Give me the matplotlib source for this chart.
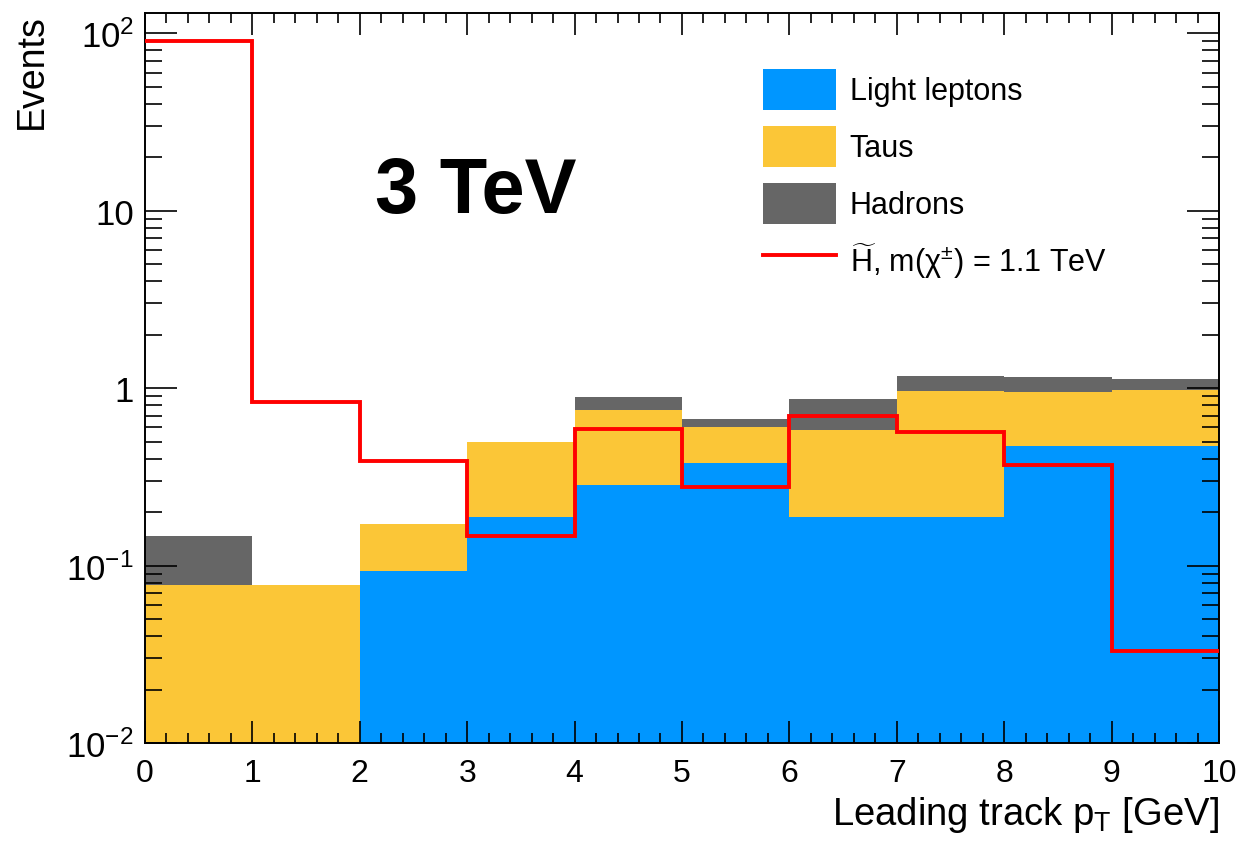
import numpy as np
import matplotlib
matplotlib.use("Agg")
import matplotlib.pyplot as plt
from matplotlib.patches import Patch
from matplotlib.lines import Line2D
from matplotlib.ticker import FixedLocator, LogLocator, FuncFormatter, MultipleLocator, NullFormatter

plt.rcParams["font.family"] = ["Liberation Sans", "DejaVu Sans"]
plt.rcParams["mathtext.fontset"] = "custom"
plt.rcParams["mathtext.rm"] = "Liberation Sans"
plt.rcParams["mathtext.it"] = "Liberation Sans:italic"
plt.rcParams["mathtext.bf"] = "Liberation Sans:bold"

# ---------- DATA ----------
bin_edges = [0, 1, 2, 3, 4, 5, 6, 7, 8, 9, 10]
light_leptons = [0.0, 0.0, 0.0935, 0.188, 0.283, 0.378, 0.188, 0.188, 0.473, 0.473]
taus = [0.078, 0.078, 0.0775, 0.312, 0.472, 0.227, 0.394, 0.774, 0.473, 0.505]
hadrons = [0.068, 0.0, 0.0, 0.0, 0.138, 0.062, 0.285, 0.202, 0.202, 0.146]
signal = [90.5, 0.84, 0.386, 0.147, 0.587, 0.277, 0.698, 0.565, 0.367, 0.0328]

labels = ["Light leptons", "Taus", "Hadrons"]
colors = ["#0096ff", "#fbc637", "#666666"]
signal_label = r"$\widetilde{\mathrm{H}}$, m(χ$^{\pm}$) = 1.1 TeV"

# ---------- PLOT ----------
fig = plt.figure(figsize=(12.55, 8.45), dpi=100)
ax = fig.add_axes([0.1155, 0.1195, 0.8558, 0.8639])

edges = np.array(bin_edges, dtype=float)
centers = 0.5 * (edges[:-1] + edges[1:])

ax.hist([centers] * 3, bins=edges, weights=[light_leptons, taus, hadrons],
        stacked=True, histtype="stepfilled", color=colors, linewidth=0)
ax.stairs(signal, edges, baseline=None, color="#ff0000", linewidth=2.8, zorder=3)

ax.set_yscale("log")
ax.set_xlim(0, 10)
ax.set_ylim(0.01, 130)

# axis ticks, ROOT style
ax.xaxis.set_major_locator(MultipleLocator(1))
ax.xaxis.set_minor_locator(MultipleLocator(0.2))
ax.yaxis.set_major_locator(FixedLocator([1e-2, 1e-1, 1, 10, 100]))
ax.yaxis.set_minor_locator(LogLocator(base=10, subs=np.arange(2, 10)))
ax.yaxis.set_minor_formatter(NullFormatter())

ylabels = {1e-2: r"$10^{-2}$", 1e-1: r"$10^{-1}$", 1: "1", 10: "10", 100: r"$10^{2}$"}
ax.yaxis.set_major_formatter(FuncFormatter(
    lambda v, pos: min(ylabels.items(), key=lambda kv: abs(np.log10(kv[0]) - np.log10(v)))[1]))

ax.tick_params(axis="both", which="both", direction="in", top=True, right=True, width=1.2)
ax.tick_params(axis="x", which="major", length=15.5, labelsize=23, pad=11)
ax.tick_params(axis="x", which="minor", length=7.5)
ax.tick_params(axis="y", which="major", length=23, labelsize=25, pad=8)
ax.tick_params(axis="y", which="minor", length=12)
for sp in ax.spines.values():
    sp.set_linewidth(1.4)

ax.set_xlabel(r"Leading track p$_{\mathrm{T}}$ [GeV]", fontsize=27.5, loc="right", labelpad=4)
ax.set_ylabel("Events", fontsize=27, loc="top", labelpad=12)

ax.text(0.214, 0.727, "3 TeV", transform=ax.transAxes, fontsize=56,
        fontweight="bold", ha="left", va="baseline")

# ---------- LEGEND ----------
handles = [Patch(facecolor=c, edgecolor="none") for c in colors]
handles.append(Line2D([], [], color="#ff0000", linewidth=2.8))
fs = 22
ax.legend(handles, labels + [signal_label], loc="upper left",
          bbox_to_anchor=(0.575, 0.924), frameon=False, fontsize=fs,
          borderpad=0, borderaxespad=0,
          handlelength=2.39, handleheight=1.69,
          handletextpad=0.46, labelspacing=0.525)

fig.savefig("out.png", dpi=100)
